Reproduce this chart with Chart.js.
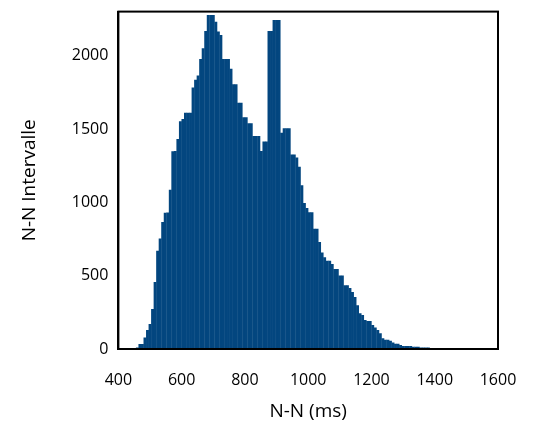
<!DOCTYPE html>
<html><head><meta charset="utf-8">
<script src="https://cdn.jsdelivr.net/npm/chart.js@4"></script>
<style>html,body{margin:0;background:#fff}#wrap{width:537px;height:423px}</style>
</head><body><div id="wrap"><canvas id="c"></canvas></div>
<script>
// histogram: 8 ms bins starting at 456 ms
const binStart = 456;
const binWidth = 8;
const counts = [11,34,34,79,130,171,272,456,670,753,865,928,930,1085,1348,1350,1431,1553,1568,1611,1611,1611,
  1782,1836,1865,1977,2051,2168,2276,2276,2276,2231,2164,2141,1977,1977,1977,1910,1804,1804,1678,1678,1580,1580,
  1539,1539,1452,1452,1452,1350,1415,1415,2168,2168,2242,2242,2242,1474,1505,1505,1505,1326,1326,1305,1243,1117,995,
  962,933,933,820,820,730,658,625,602,602,580,546,546,501,501,434,434,416,389,355,299,243,231,198,191,191,164,146,
  130,108,74,63,63,56,45,36,36,27,20,20,20,20,16,16,16,11,11,11,11];
const xTicks = [400,600,800,1000,1200,1400,1600];
const yTicks = [0,500,1000,1500,2000];

const pts = counts.map((v,i)=>({x: binStart + binWidth*i + binWidth/2, y: v}));

const frame = { id:'frame', afterDraw(ch){
  const a=ch.chartArea, c=ch.ctx;
  c.save(); c.strokeStyle='#000'; c.lineWidth=2; c.strokeRect(a.left,a.top,a.right-a.left,a.bottom-a.top); c.restore();
}};

new Chart(document.getElementById('c'),{
  type:'bar',
  data:{datasets:[{data:pts,backgroundColor:'#03467f',borderWidth:0,barPercentage:1.15,categoryPercentage:1,grouped:false}]},
  options:{
    responsive:true,maintainAspectRatio:false,animation:false,
    layout:{padding:{top:4,right:39,left:14,bottom:0}},
    plugins:{legend:{display:false},tooltip:{enabled:false}},
    scales:{
      x:{type:'linear',min:400,max:1600,offset:false,
        afterBuildTicks:s=>{s.ticks=xTicks.map(v=>({value:v}));},
        grid:{display:false,offset:false,drawTicks:true,tickLength:8,tickColor:'#000',tickWidth:2},
        border:{color:'#000',width:2},
        ticks:{color:'#000',font:{family:'Open Sans',size:16},padding:14,maxRotation:0,callback:v=>String(v)},
        title:{display:true,text:'N-N (ms)',color:'#000',font:{family:'Open Sans',size:19},padding:{top:-4,bottom:0}}},
      y:{min:0,max:2300,
        afterBuildTicks:s=>{s.ticks=yTicks.map(v=>({value:v}));},
        grid:{display:false,drawTicks:true,tickLength:8,tickColor:'#000',tickWidth:2},
        border:{color:'#000',width:2},
        ticks:{color:'#000',font:{family:'Open Sans',size:16},padding:2,callback:v=>String(v)},
        title:{display:true,text:'N-N Intervalle',color:'#000',font:{family:'Open Sans',size:19},padding:{bottom:29}}}
    }
  },
  plugins:[frame]
});
</script></body></html>
